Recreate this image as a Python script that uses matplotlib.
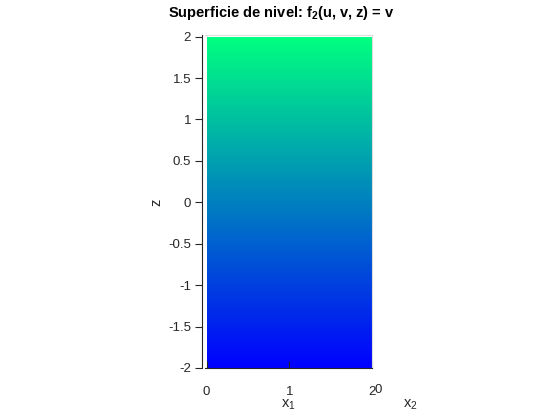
import numpy as np
import matplotlib
matplotlib.use('Agg')
import matplotlib.pyplot as plt

plt.rcParams['font.family'] = ['Liberation Sans', 'DejaVu Sans']
plt.rcParams['mathtext.fontset'] = 'custom'
plt.rcParams['mathtext.rm'] = 'Liberation Sans'
plt.rcParams['mathtext.bf'] = 'Liberation Sans:bold'

# level surface f2(u, v, z) = v, seen edge-on along x2
x1_edges = [0, 2]
z_edges = np.linspace(-2, 2, 101)
x1_ticks = [0, 1, 2]
z_ticks = [-2, -1.5, -1, -0.5, 0, 0.5, 1, 1.5, 2]
z_ticklabels = ['-2', '-1.5', '-1', '-0.5', '0', '0.5', '1', '1.5', '2']

fig = plt.figure(figsize=(5.6, 4.2), dpi=100)
ax = fig.add_axes([205 / 560, 52 / 420, 167 / 560, 333 / 420])

zc = 0.5 * (z_edges[:-1] + z_edges[1:])
C = np.tile(zc[:, None], (1, len(x1_edges) - 1))
ax.pcolormesh(x1_edges, z_edges, C, cmap='winter', vmin=-2, vmax=2,
              shading='flat', edgecolors='none')

ax.set_xlim(-0.02, 2.0)
ax.set_ylim(-2.0, 2.02)

ax.set_xticks(x1_ticks)
ax.set_xticklabels(['0', '1', '2'])
ax.set_yticks(z_ticks)
ax.set_yticklabels(z_ticklabels)
ax.tick_params(axis='x', direction='in', length=5, pad=13, labelsize=9.5, color='#262626', labelcolor='#262626')
ax.tick_params(axis='y', direction='out', length=5, pad=3, labelsize=9.5, color='#262626', labelcolor='#262626')

for s in ['top', 'right']:
    ax.spines[s].set_color('#dcdcdc')
    ax.spines[s].set_linewidth(0.8)
ax.spines['left'].set_position(('outward', 2))
ax.spines['left'].set_color('#262626')
ax.spines['bottom'].set_color('#262626')
ax.spines['left'].set_linewidth(0.8)
ax.spines['bottom'].set_linewidth(0.8)

fig.text(281 / 560, 1 - 13 / 420, r'Superficie de nivel: f$_\mathbf{2}$(u, v, z) = v',
         ha='center', va='center', fontsize=10.5, fontweight='bold')
fig.text(288 / 560, 1 - 397 / 420, r'x$_1$', ha='center', va='top', fontsize=10.5, color='#262626')
fig.text(410 / 560, 1 - 397 / 420, r'x$_2$', ha='center', va='top', fontsize=10.5, color='#262626')
fig.text(378 / 560, 1 - 390 / 420, '0', ha='center', va='center', fontsize=9.5, color='#262626')
fig.text(156 / 560, 1 - 202 / 420, 'z', ha='center', va='center', fontsize=10.5, rotation=90, color='#262626')

fig.savefig('out.png', dpi=100)
